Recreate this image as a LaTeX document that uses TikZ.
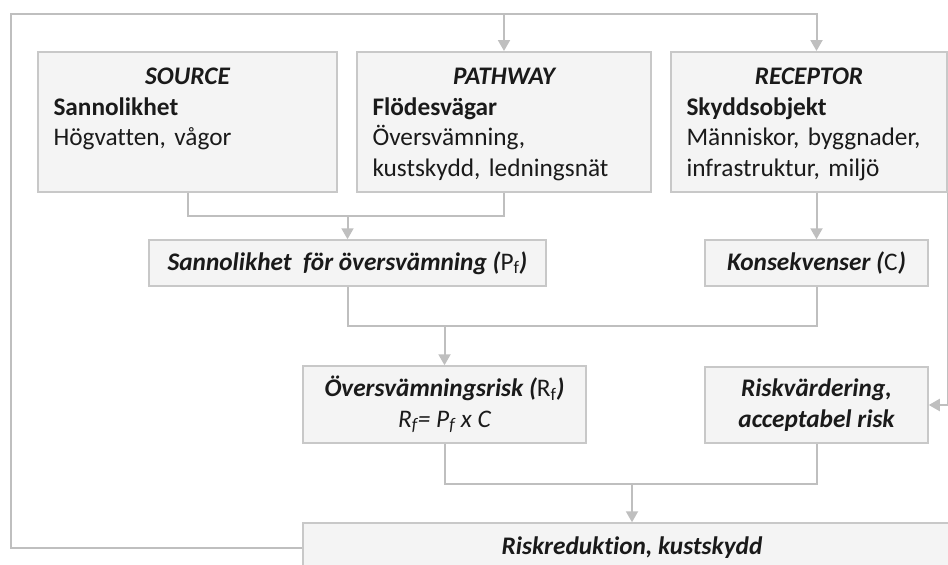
\documentclass[tikz,border=0pt]{standalone}
\usepackage{fontspec}
\setmainfont{Carlito}[Ligatures=NoCommon]
\usetikzlibrary{arrows.meta, positioning, calc}
\definecolor{boxfill}{HTML}{F4F4F4}
\definecolor{boxline}{HTML}{C8C8C8}
\definecolor{wire}{HTML}{BFBFBF}
\definecolor{ink}{HTML}{1A1A1A}
\tikzset{
  spr/.style={rectangle, draw=boxline, line width=1.5pt, fill=boxfill, text=ink,
    font=\fontsize{25.3}{30.5}\selectfont, align=left, anchor=north,
    inner xsep=15.5pt, inner ysep=0pt, text height=33pt, text depth=107pt},
  res/.style={rectangle, draw=boxline, line width=1.5pt, fill=boxfill, text=ink,
    font=\fontsize{25.3}{30.5}\selectfont\bfseries\itshape, align=center, inner sep=0pt},
  ar/.style={-{Triangle[width=12pt,length=11pt]}, draw=wire, line width=2pt},
  ln/.style={draw=wire, line width=2pt},
}
\newcommand{\SPR}[3]{%
  {\centering\bfseries\itshape #1\par}%
  \textbf{#2}\\#3%
}
\newcommand{\UP}[2]{{\mdseries\upshape #1\textsubscript{#2}}}

\begin{document}
\begin{tikzpicture}[x=1pt, y=-1pt]
\useasboundingbox (0,0) rectangle (948,565);
\clip (0,0) rectangle (948,565);

% source - pathway - receptor
\node[spr, text width=268pt] (SRC) at (187.5,51) {\SPR{SOURCE}{Sannolikhet}{Högvatten, vågor}};
\node[spr, text width=263pt] (PATH) at (504,51) {\SPR{PATHWAY}{Flödesvägar}{Översvämning,\\kustskydd, ledningsnät}};
\node[spr, text width=245pt] (REC) at (809,51) {\SPR{RECEPTOR}{Skyddsobjekt}{Människor, byggnader,\\infrastruktur, miljö}};

% results
\node[res, minimum width=397pt, minimum height=46pt] (PF) at (347.5,263) {Sannolikhet \ för översvämning (\UP{P}{f})};
\node[res, minimum width=223pt, minimum height=46pt] (KONS) at (816.5,263) {Konsekvenser (\UP{C}{})};
\node[res, minimum width=283pt, minimum height=77pt] (RISK) at (444.5,404.5) {Översvämningsrisk (\UP{R}{f})\\{\mdseries R\textsubscript{f}= P\textsubscript{f} x C}};
\node[res, minimum width=223pt, minimum height=76pt] (RV) at (816.5,405) {Riskvärdering,\\acceptabel risk};
\node[res, minimum width=658pt, minimum height=50pt] (RR) at (632,548) {Riskreduktion, kustskydd};

\coordinate (topL) at (11,14);
\coordinate (mSP) at (347.5,216);
\coordinate (mPC) at (444.5,326);
\coordinate (mRR) at (632,484);

% feedback loop
\draw[ar] (RR.west) -| (topL) -| (REC.north -| KONS);
\draw[ar] (PATH.north |- topL) -- (PATH.north);

\draw[ln] (SRC.south) |- (mSP) -| (PATH.south);
\draw[ar] (mSP) -- (PF.north);
\draw[ar] (REC.south -| KONS) -- (KONS.north);
\draw[ar] (REC.south east) |- (RV.east);

\draw[ln] (PF.south) |- (mPC) -| (KONS.south);
\draw[ar] (mPC) -- (RISK.north);

\draw[ln] (RISK.south) |- (mRR) -| (RV.south);
\draw[ar] (mRR) -- (RR.north);
\end{tikzpicture}
\end{document}
